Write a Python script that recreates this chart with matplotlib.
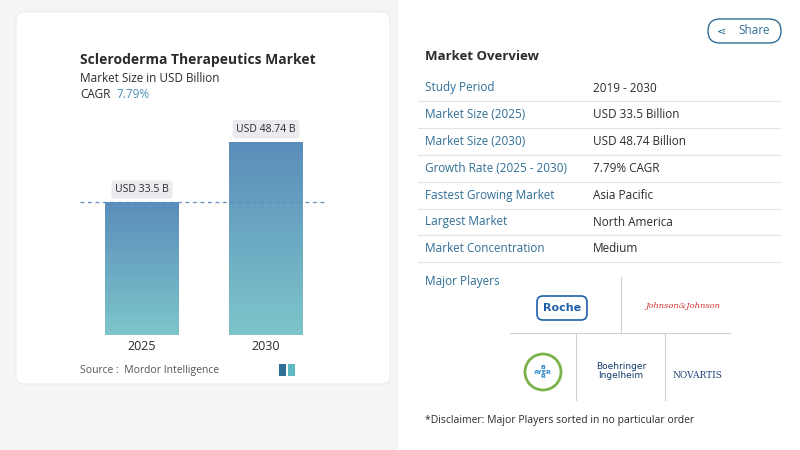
import matplotlib
matplotlib.use("Agg")
import matplotlib.pyplot as plt
import numpy as np
from matplotlib.patches import FancyBboxPatch, Rectangle, Circle

years = ["2025", "2030"]
values = [33.5, 48.74]
value_labels = ["USD 33.5 B", "USD 48.74 B"]
row_labels = ["Study Period", "Market Size (2025)", "Market Size (2030)", "Growth Rate (2025 - 2030)",
              "Fastest Growing Market", "Largest Market", "Market Concentration"]
row_values = ["2019 - 2030", "USD 33.5 Billion", "USD 48.74 Billion", "7.79% CAGR",
              "Asia Pacific", "North America", "Medium"]

W, H = 800, 450
fig = plt.figure(figsize=(8, 4.5), dpi=100)
fig.patch.set_facecolor("#f4f5f7")
bg = fig.add_axes([0, 0, 1, 1])
bg.set_xlim(0, W); bg.set_ylim(H, 0); bg.axis("off")
font = "Open Sans"
dark = "#2b2b2b"; blue = "#2f6f97"

# cards
bg.add_patch(FancyBboxPatch((16, 12), 374, 372, boxstyle="round,pad=0,rounding_size=8", fc="white", ec="#ececec", lw=0.8))
bg.add_patch(FancyBboxPatch((398, 0), 402, 450, boxstyle="square,pad=0", fc="white", ec="none"))

bg.text(80, 60, "Scleroderma Therapeutics Market", fontsize=10, fontweight="bold", color=dark, family=font, va="center")
bg.text(80, 78, "Market Size in USD Billion", fontsize=8.5, color=dark, family=font, va="center")
bg.text(80, 95, "CAGR", fontsize=8.5, color=dark, family=font, va="center")
bg.text(116, 95, "7.79%", fontsize=8.5, color="#4a8fb8", family=font, va="center")
bg.text(80, 371, "Source :  Mordor Intelligence", fontsize=7.5, color="#555555", family=font, va="center")
# logo approximation
bg.add_patch(Rectangle((279, 364), 7, 12, fc="#2f6f97")); bg.add_patch(Rectangle((288, 364), 7, 12, fc="#5fb8c2"))

# bars
ax = fig.add_axes([80/W, (H-335)/H, 248/W, 218/H])
ax.set_xlim(0, 2); ax.set_ylim(0, 55); ax.axis("off")
xs = [0.5, 1.5]
grad = np.linspace(0, 1, 256).reshape(-1, 1)
cmap = matplotlib.colors.LinearSegmentedColormap.from_list("g", ["#7ec5ca", "#5a8dbb"])
for x, v, lab in zip(xs, values, value_labels):
    b = ax.bar(x, v, width=0.59, color="none")[0]
    im = ax.imshow(grad, extent=[x-0.295, x+0.295, 0, v], origin="lower", cmap=cmap, aspect="auto", zorder=1)
    im.set_clip_path(b)
    ax.text(x, v + 3.2, lab, ha="center", va="center", fontsize=7.5, color=dark, family=font,
            bbox=dict(boxstyle="round,pad=0.35,rounding_size=0.3", fc="#e9ebee", ec="none"))
ax.axhline(values[0], color="#5a8dbb", ls=(0, (3, 3)), lw=0.9, zorder=2)
ax.set_aspect("auto")
for x, y in zip(xs, years):
    bg.text(80 + x*124, 346, y, ha="center", va="center", fontsize=9, color=dark, family=font)

# share button
bg.add_patch(FancyBboxPatch((708, 19), 73, 24, boxstyle="round,pad=0,rounding_size=12", fc="white", ec="#2f6f97", lw=1))
bg.text(738, 31, "Share", fontsize=8.5, color="#2f6f97", family=font, va="center")
bg.text(721, 31, "⋖", fontsize=8, color="#2f6f97", va="center", ha="center")

# table
bg.text(425, 56, "Market Overview", fontsize=9.5, fontweight="bold", color=dark, family=font, va="center")
y0 = 88
for i, (l, v) in enumerate(zip(row_labels, row_values)):
    y = y0 + i*26.8
    bg.text(425, y, l, fontsize=8.5, color=blue, family=font, va="center")
    bg.text(593, y, v, fontsize=8.5, color=dark, family=font, va="center")
    bg.plot([418, 780], [y+13.4, y+13.4], color="#e3e3e3", lw=0.8)
bg.text(425, 281, "Major Players", fontsize=8.5, color=blue, family=font, va="center")

# logo grid
lc = "#cfcfcf"
bg.plot([621, 621], [277, 333], color=lc, lw=0.8)
bg.plot([576, 576], [333, 400], color=lc, lw=0.8)
bg.plot([665, 665], [333, 400], color=lc, lw=0.8)
bg.plot([510, 730], [333, 333], color=lc, lw=0.8)
bg.plot([576, 665], [348, 348], color=lc, lw=0)
bg.add_patch(FancyBboxPatch((537, 296), 50, 24, boxstyle="round,pad=0,rounding_size=6", fc="white", ec="#1f5fa8", lw=1.2))
bg.text(562, 308, "Roche", fontsize=8, color="#1f5fa8", ha="center", va="center", fontweight="bold")
bg.text(683, 306, "Johnson&Johnson", fontsize=6, color="#d0332b", ha="center", va="center", style="italic", family="DejaVu Serif")
bg.add_patch(Circle((543, 372), 18, fc="white", ec="#7bb24b", lw=2))
bg.text(543, 372, "B\nAYER\nR", fontsize=4.5, color="#2b8ad0", ha="center", va="center", fontweight="bold", linespacing=0.9)
bg.text(621, 371, "Boehringer\nIngelheim", fontsize=6.5, color="#123c6e", ha="center", va="center", linespacing=1.1)
bg.text(697, 375, "NOVARTIS", fontsize=6.5, color="#1d3f73", ha="center", va="center", family="DejaVu Serif")
bg.text(425, 420, "*Disclaimer: Major Players sorted in no particular order", fontsize=7.5, color=dark, family=font, va="center")

fig.savefig("out.png", dpi=100, facecolor=fig.get_facecolor())
